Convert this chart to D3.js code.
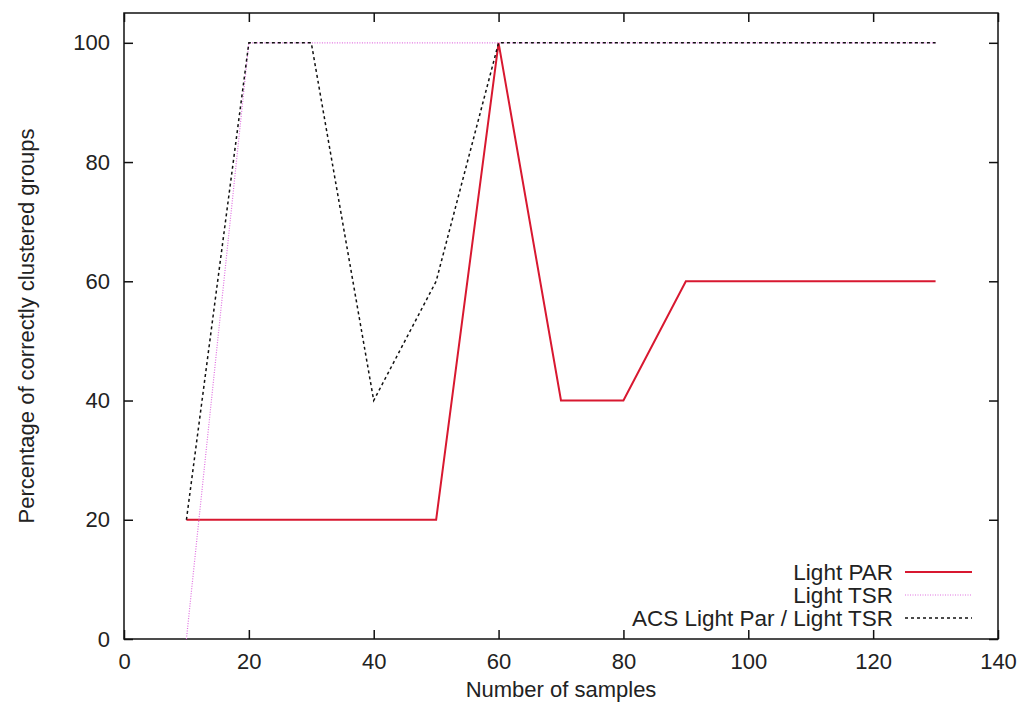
<!DOCTYPE html>
<html>
<head>
<meta charset="utf-8">
<script src="https://cdn.jsdelivr.net/npm/d3@7"></script>
<style>
  body { margin: 0; background: #fff; }
  text { font-family: "Liberation Sans", Arial, sans-serif; fill: #222; }
</style>
</head>
<body>
<div id="chart-area"></div>
<script>
// data
const samples = [10, 20, 30, 40, 50, 60, 70, 80, 90, 100, 110, 120, 130];
const lightPar = [20, 20, 20, 20, 20, 100, 40, 40, 60, 60, 60, 60, 60];
const lightTsr = [0, 100, 100, 100, 100, 100, 100, 100, 100, 100, 100, 100, 100];
const acs = [20, 100, 100, 40, 60, 100, 100, 100, 100, 100, 100, 100, 100];
const xTicks = [0, 20, 40, 60, 80, 100, 120, 140];
const yTicks = [0, 20, 40, 60, 80, 100];

const series = [
  {name: "Light PAR", values: lightPar, color: "#d81830", width: 2, dash: null},
  {name: "Light TSR", values: lightTsr, color: "#e070e0", width: 1.2, dash: "1,1.5"},
  {name: "ACS Light Par / Light TSR", values: acs, color: "#111", width: 1.5, dash: "3,3"}
];

// set the dimensions and margins of the graph
const margin = {top: 13, right: 28, bottom: 73, left: 124},
    width = 1026 - margin.left - margin.right,
    height = 712 - margin.top - margin.bottom;

const svg = d3.select("#chart-area")
  .append("svg")
    .attr("width", 1026)
    .attr("height", 712)
  .append("g")
    .attr("transform", `translate(${margin.left}, ${margin.top})`);

const x = d3.scaleLinear().domain([0, 140]).range([0, width]);
const y = d3.scaleLinear().domain([0, 105]).range([height, 0]);

// axes with inward ticks, mirrored on top and right
const tickLen = 9;
const axisBottomG = svg.append("g")
  .attr("transform", `translate(0, ${height})`)
  .call(d3.axisBottom(x).tickValues(xTicks).tickSizeInner(-tickLen).tickSizeOuter(0).tickPadding(14));
const axisTopG = svg.append("g")
  .call(d3.axisTop(x).tickValues(xTicks).tickSizeInner(-tickLen).tickSizeOuter(0).tickFormat(""));
const axisLeftG = svg.append("g")
  .call(d3.axisLeft(y).tickValues(yTicks).tickSizeInner(-tickLen).tickSizeOuter(0).tickPadding(14));
const axisRightG = svg.append("g")
  .attr("transform", `translate(${width}, 0)`)
  .call(d3.axisRight(y).tickValues(yTicks).tickSizeInner(-tickLen).tickSizeOuter(0).tickFormat(""));

[axisBottomG, axisTopG, axisLeftG, axisRightG].forEach(g => {
  g.select(".domain").remove();
  g.selectAll("line").attr("stroke", "#111").attr("stroke-width", 1.5);
  g.selectAll("text").style("font-size", "22px").attr("fill", "#222");
});

// frame
svg.append("rect")
  .attr("width", width)
  .attr("height", height)
  .attr("fill", "none")
  .attr("stroke", "#111")
  .attr("stroke-width", 1.5);

// lines
const line = d3.line()
  .x(d => x(d[0]))
  .y(d => y(d[1]));

series.forEach(s => {
  svg.append("path")
    .datum(samples.map((v, i) => [v, s.values[i]]))
    .attr("fill", "none")
    .attr("stroke", s.color)
    .attr("stroke-width", s.width)
    .attr("stroke-dasharray", s.dash)
    .attr("d", line);
});

// legend
const legend = svg.append("g")
  .attr("transform", `translate(${width - 105}, ${height - 67})`);
series.forEach((s, i) => {
  const row = legend.append("g").attr("transform", `translate(0, ${i * 23})`);
  row.append("text")
    .attr("x", 0)
    .attr("dy", "0.35em")
    .attr("text-anchor", "end")
    .style("font-size", "22.5px")
    .text(s.name);
  row.append("line")
    .attr("x1", 12).attr("x2", 79)
    .attr("stroke", s.color)
    .attr("stroke-width", s.width)
    .attr("stroke-dasharray", s.dash);
});

// axis titles
svg.append("text")
  .attr("x", width / 2)
  .attr("y", height + 58)
  .attr("text-anchor", "middle")
  .style("font-size", "22px")
  .text("Number of samples");

svg.append("text")
  .attr("transform", `translate(-90, ${height / 2}) rotate(-90)`)
  .attr("text-anchor", "middle")
  .style("font-size", "22px")
  .text("Percentage of correctly clustered groups");
</script>
</body>
</html>
